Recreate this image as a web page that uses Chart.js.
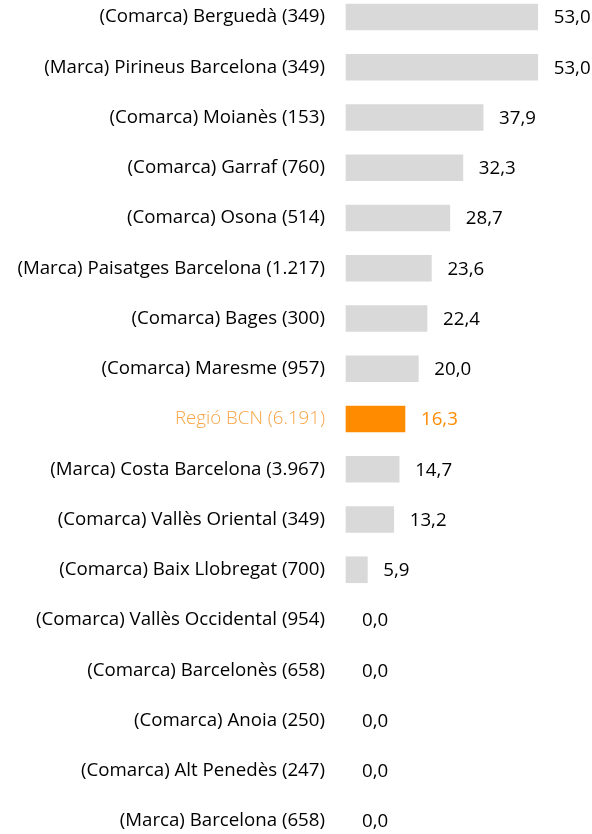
<!DOCTYPE html>
<html>
<head>
<meta charset="utf-8">
<script src="https://cdn.jsdelivr.net/npm/chart.js@4"></script>
<style>
  html, body { margin: 0; padding: 0; background: #fff; }
  #wrap { width: 592px; height: 834px; position: relative; }
</style>
</head>
<body>
<div id="wrap"><canvas id="barChart"></canvas></div>
<script>
// Noms dels territoris (etiquetes de l'eix Y)
const territoris = [
    '(Comarca) Berguedà (349)',
    '(Marca) Pirineus Barcelona (349)',
    '(Comarca) Moianès (153)',
    '(Comarca) Garraf (760)',
    '(Comarca) Osona (514)',
    '(Marca) Paisatges Barcelona (1.217)',
    '(Comarca) Bages (300)',
    '(Comarca) Maresme (957)',
    'Regió BCN (6.191)',
    '(Marca) Costa Barcelona (3.967)',
    '(Comarca) Vallès Oriental (349)',
    '(Comarca) Baix Llobregat (700)',
    '(Comarca) Vallès Occidental (954)',
    '(Comarca) Barcelonès (658)',
    '(Comarca) Anoia (250)',
    '(Comarca) Alt Penedès (247)',
    '(Marca) Barcelona (658)'
];
const valors = [53.0, 53.0, 37.9, 32.3, 28.7, 23.6, 22.4, 20.0, 16.3, 14.7, 13.2, 5.9, 0.0, 0.0, 0.0, 0.0, 0.0];

const destacat = 'Regió BCN (6.191)';
const colorBarra = '#d9d9d9';
const colorDestacat = '#ff8c00';
const colorEtiquetaDestacat = '#f7a444';

const font = '"Open Sans", "Noto Sans", sans-serif';
const midaFont = 18.7;

// Plugin per escriure el valor al costat de cada barra
const valueLabels = {
    id: 'valueLabels',
    afterDatasetsDraw(chart) {
        const c = chart.ctx;
        const meta = chart.getDatasetMeta(0);
        c.save();
        c.font = midaFont + 'px ' + font;
        c.textBaseline = 'middle';
        c.textAlign = 'left';
        meta.data.forEach((bar, i) => {
            c.fillStyle = territoris[i] === destacat ? colorDestacat : '#000';
            const txt = valors[i].toFixed(1).replace('.', ',');
            c.fillText(txt, bar.x + 16, bar.y + 1);
        });
        c.restore();
    }
};

const ctx = document.getElementById('barChart').getContext('2d');

new Chart(ctx, {
    type: 'bar',
    data: {
        labels: territoris,
        datasets: [{
            data: valors,
            backgroundColor: territoris.map((t, i) => {
                if (valors[i] === 0) return 'rgba(0,0,0,0)';
                return t === destacat ? colorDestacat : colorBarra;
            }),
            borderWidth: 0,
            barThickness: 26,
            clip: false
        }]
    },
    options: {
        indexAxis: 'y',
        responsive: true,
        maintainAspectRatio: false,
        animation: false,
        layout: { padding: { top: 17, bottom: 13, left: 0, right: 0 } },
        plugins: {
            legend: { display: false },
            tooltip: { enabled: false }
        },
        scales: {
            x: {
                display: false,
                min: 0,
                max: 68
            },
            y: {
                offset: false,
                // marques invisibles: només serveixen per separar les etiquetes de les barres
                grid: { display: true, drawOnChartArea: false, drawTicks: true, tickLength: 21, color: 'rgba(0,0,0,0)' },
                border: { display: false },
                afterFit(scale) { scale.width = 346; },
                ticks: {
                    padding: 0,
                    autoSkip: false,
                    font: (c) => ({
                        family: font,
                        size: midaFont,
                        weight: territoris[c.index] === destacat ? 300 : 400
                    }),
                    color: (c) => territoris[c.index] === destacat ? colorEtiquetaDestacat : '#000'
                }
            }
        }
    },
    plugins: [valueLabels]
});
</script>
</body>
</html>
